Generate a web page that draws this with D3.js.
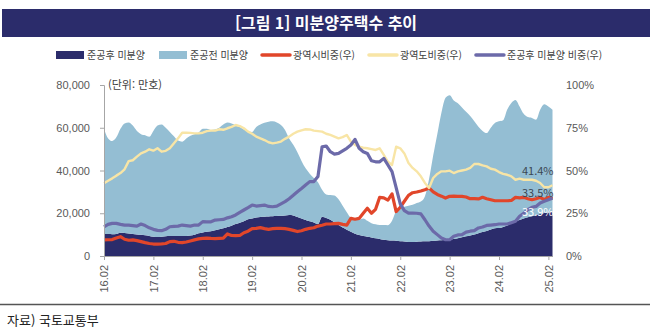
<!DOCTYPE html>
<html lang="ko">
<head>
<meta charset="utf-8">
<script src="https://cdn.jsdelivr.net/npm/d3@7"></script>
<style>
  body { margin: 0; background: #fff; }
  svg { display: block; font-family: "Noto Sans CJK KR", "Noto Sans", sans-serif; }
</style>
</head>
<body>
<svg width="652" height="335"></svg>
<script>
// monthly series, 16.02 onward
const months = d3.timeMonth
  .range(new Date(2016, 1, 1), new Date(2025, 3, 1))
  .map(d3.timeFormat("%y.%m"));
const xTicks = ["16.02", "17.02", "18.02", "19.02", "20.02", "21.02", "22.02", "23.02", "24.02", "25.02"];
const yTicks = [0, 20000, 40000, 60000, 80000];
const pctTicks = [0, 25, 50, 75, 100];

// 준공후 미분양 (호)
const completed = [
  10300, 10300, 10200, 10300, 10900, 10800, 10500, 10300, 10100, 9900, 9700, 9400,
  9000, 8900, 9000, 9200, 9300, 9400, 9400, 9400, 9400, 9600, 9900, 10600,
  11000, 11300, 11600, 12100, 12500, 13000, 13600, 14200, 15000, 15600, 16300, 17200,
  17600, 18000, 18300, 18400, 18500, 18600, 18700, 18800, 19000, 19200, 19000, 18300,
  17600, 16900, 16200, 15700, 15000, 18400, 17800, 17000, 15800, 14500, 13300, 12300,
  11300, 10400, 9800, 9300, 9000, 8700, 8300, 8000, 7600, 7400, 7200, 7100,
  6900, 6800, 6600, 6600, 6700, 6800, 6900, 6900, 7100, 7300, 7400, 7500,
  7600, 7900, 8300, 8800, 9200, 9600, 10100, 10700, 11200, 11700, 12400, 13000,
  13100, 13600, 14300, 15200, 16200, 16800, 17500, 18100, 18600, 19200, 19600, 20100,
  20400, 20600
];
// 준공전 미분양 (호)
const preCompletion = [
  49200, 44700, 43600, 45200, 48600, 51200, 52000, 50700, 48400, 47100, 46800, 46400,
  49500, 52100, 52500, 50800, 48700, 46600, 44600, 44100, 45600, 46600, 47100, 47200,
  48500, 48200, 47400, 47100, 47500, 48500, 48800, 47800, 46200, 44700, 42900, 41300,
  40400, 42300, 43200, 43900, 44300, 44400, 43800, 42500, 40000, 35800, 33000, 30200,
  26900, 24100, 22300, 20800, 19500, 12600, 11000, 11500, 12500, 12000, 10200, 8200,
  6500, 6400, 7200, 8300, 7500, 6600, 6500, 6500, 6900, 7000, 9300, 13900,
  15600, 16200, 16900, 17400, 18100, 18700, 21100, 29100, 39900, 49700, 59600, 66500,
  67600, 64900, 63200, 60700, 58300, 55900, 52900, 49800, 47300, 45800, 47600, 49200,
  49900, 49900, 54200, 56400, 56800, 53200, 49000, 46900, 46000, 44600, 48800, 50900,
  49600, 47800
];
// 광역시 비중 (%)
const metroShare = [
  9.4, 9.5, 9.6, 10.5, 11.3, 9.8, 9.2, 9.4, 9.0, 8.4, 7.8, 7.3,
  7.0, 7.0, 7.1, 7.3, 8.4, 8.6, 8.0, 7.8, 8.2, 8.8, 9.4, 10.0,
  10.3, 10.5, 10.3, 10.2, 10.3, 10.4, 12.9, 12.0, 11.9, 12.0, 13.6, 14.5,
  16.0, 16.2, 16.6, 16.0, 15.6, 16.0, 16.2, 16.2, 16.0, 15.6, 15.0, 14.3,
  14.8, 15.6, 16.2, 16.5, 17.5, 18.0, 18.7, 18.7, 18.9, 19.1, 18.5, 18.1,
  22.0, 21.5, 22.0, 25.0, 27.9, 25.0, 27.3, 34.3, 34.0, 32.7, 36.3, 26.0,
  28.5, 32.0, 35.5, 37.0, 37.4, 38.0, 38.8, 39.8, 37.5, 36.0, 35.0, 33.9,
  34.9, 35.0, 34.9, 34.9, 34.5, 33.5, 33.5, 33.4, 34.3, 33.5, 32.9, 32.3,
  32.3, 32.3, 32.3, 32.5, 34.3, 34.0, 34.3, 33.5, 32.9, 33.5, 34.3, 32.9,
  34.3, 33.5
];
// 광역도 비중 (%)
const provinceShare = [
  42.5, 44.0, 45.4, 47.0, 48.5, 50.7, 55.5, 56.0, 58.1, 60.0, 61.0, 62.4,
  61.6, 63.0, 61.0, 61.5, 63.0, 65.9, 68.8, 72.1, 72.1, 72.0, 71.7, 71.7,
  72.1, 73.0, 73.3, 73.3, 74.1, 73.8, 74.7, 75.5, 76.6, 76.0, 74.7, 72.7,
  71.5, 69.8, 68.8, 67.8, 66.5, 65.9, 66.3, 66.9, 68.5, 69.8, 71.5, 72.7,
  73.5, 74.1, 74.0, 73.3, 73.0, 72.7, 71.5, 70.8, 69.8, 68.8, 69.5, 70.8,
  66.9, 65.0, 63.9, 63.3, 63.0, 62.5, 62.0, 63.0, 59.1, 55.1, 53.2, 63.9,
  63.0, 60.0, 54.4, 51.5, 49.5, 46.6, 42.7, 39.8, 45.6, 48.0, 49.5, 49.5,
  49.9, 48.5, 49.5, 50.0, 50.5, 51.5, 53.8, 53.8, 53.0, 52.4, 51.0, 50.5,
  49.1, 48.0, 47.5, 46.6, 44.6, 45.2, 44.6, 44.6, 44.6, 44.0, 42.7, 40.2,
  40.2, 41.4
];
// 준공후 미분양 비중 (%)
const completedShare = [
  17.1, 18.5, 19.1, 19.1, 18.5, 18.1, 18.1, 17.8, 17.5, 18.7, 17.8, 16.5,
  15.6, 15.0, 14.8, 15.6, 17.1, 17.3, 17.5, 18.1, 17.8, 17.5, 18.1, 18.1,
  20.1, 20.0, 20.0, 21.0, 21.2, 21.4, 22.3, 23.0, 24.0, 25.5, 26.9, 28.3,
  29.8, 29.2, 29.5, 29.8, 29.0, 28.8, 29.2, 30.5, 31.8, 33.5, 35.5, 37.6,
  39.5, 41.5, 43.5, 43.5, 46.5, 63.9, 64.3, 61.0, 59.6, 60.0, 61.5, 63.0,
  64.9, 68.2, 63.0, 61.0, 60.0, 55.7, 55.1, 55.1, 57.1, 53.2, 49.3, 40.0,
  30.5, 26.5, 25.1, 25.1, 25.0, 24.6, 21.2, 17.5, 14.5, 12.5, 10.5, 9.5,
  9.5, 11.5, 12.3, 12.5, 14.0, 14.5, 14.8, 16.4, 17.0, 17.9, 18.1, 18.3,
  18.7, 18.7, 18.7, 19.5, 20.3, 23.2, 25.0, 27.1, 28.5, 29.0, 31.0, 32.0,
  32.9, 33.9
];

const colors = {
  completed: "#2b2c6b",
  pre: "#94bed3",
  metro: "#e1462a",
  province: "#f8e5a6",
  share: "#6c6aa9",
  title: "#2b2c6b",
  text: "#595959"
};

const svg = d3.select("svg");
const width = +svg.attr("width");
const margin = { top: 85, right: 100, bottom: 79, left: 104 };
const plotBottom = 256;

// title bar
svg.append("rect")
  .attr("x", 2).attr("y", 9)
  .attr("width", width - 4).attr("height", 28)
  .attr("fill", colors.title);
svg.append("text")
  .attr("x", width / 2).attr("y", 29)
  .attr("text-anchor", "middle")
  .attr("fill", "#fff")
  .attr("font-size", 16)
  .attr("font-weight", 700)
  .text("[그림 1] 미분양주택수 추이");

// legend
const legendItems = [
  { label: "준공후 미분양", color: colors.completed, type: "box" },
  { label: "준공전 미분양", color: colors.pre, type: "box" },
  { label: "광역시비중(우)", color: colors.metro, type: "line" },
  { label: "광역도비중(우)", color: colors.province, type: "line" },
  { label: "준공후 미분양 비중(우)", color: colors.share, type: "line" }
];
let lx = 56;
const legendY = 55;
legendItems.forEach((item) => {
  if (item.type === "box") {
    svg.append("rect")
      .attr("x", lx).attr("y", legendY - 4)
      .attr("width", 28).attr("height", 8)
      .attr("fill", item.color);
  } else {
    svg.append("line")
      .attr("x1", lx).attr("x2", lx + 28)
      .attr("y1", legendY).attr("y2", legendY)
      .attr("stroke", item.color)
      .attr("stroke-width", 3.5)
      .attr("stroke-linecap", "round");
  }
  const t = svg.append("text")
    .attr("x", lx + 31).attr("y", legendY + 3.5)
    .attr("font-size", 10)
    .attr("fill", "#404040")
    .text(item.label);
  lx += 31 + t.node().getComputedTextLength() + 14;
});

// scales
const x = d3.scalePoint()
  .domain(months)
  .range([margin.left, 552.5]);
const yLeft = d3.scaleLinear()
  .domain([0, 80000])
  .range([plotBottom, margin.top]);
const yRight = d3.scaleLinear()
  .domain([0, 100])
  .range([plotBottom, margin.top]);

const table = months.map((m, i) => ({
  month: m,
  completed: completed[i],
  pre: preCompletion[i],
  metro: metroShare[i],
  province: provinceShare[i],
  share: completedShare[i]
}));

const stacked = d3.stack().keys(["completed", "pre"])(table);

const area = d3.area()
  .x((d) => x(d.data.month))
  .y0((d) => yLeft(d[0]))
  .y1((d) => yLeft(d[1]))
  .curve(d3.curveMonotoneX);

svg.append("g")
  .selectAll("path")
  .data(stacked)
  .join("path")
  .attr("fill", (d) => (d.key === "completed" ? colors.completed : colors.pre))
  .attr("d", area);

// right-axis lines
const lineSeries = [
  { key: "metro", color: colors.metro, width: 3.2 },
  { key: "province", color: colors.province, width: 2.4 },
  { key: "share", color: colors.share, width: 3.2 }
];
lineSeries.forEach((s) => {
  svg.append("path")
    .datum(table)
    .attr("fill", "none")
    .attr("stroke", s.color)
    .attr("stroke-width", s.width)
    .attr("stroke-linejoin", "round")
    .attr("d", d3.line()
      .x((d) => x(d.month))
      .y((d) => yRight(d[s.key])));
});

// axes
const yAxisG = svg.append("g")
  .attr("transform", `translate(${margin.left},0)`)
  .call(d3.axisLeft(yLeft)
    .tickValues(yTicks)
    .tickFormat(d3.format(","))
    .tickSize(4)
    .tickPadding(10));
yAxisG.select(".domain").attr("stroke", "#a6a6a6");
yAxisG.selectAll(".tick line").attr("stroke", "#a6a6a6");
yAxisG.selectAll("text")
  .attr("font-size", 11)
  .attr("fill", colors.text)
  .style("font-family", "inherit");

const yRightG = svg.append("g")
  .attr("transform", "translate(552,0)")
  .call(d3.axisRight(yRight)
    .tickValues(pctTicks)
    .tickFormat((d) => d + "%")
    .tickSize(0)
    .tickPadding(14));
yRightG.select(".domain").remove();
yRightG.selectAll("text")
  .attr("font-size", 11)
  .attr("fill", colors.text)
  .style("font-family", "inherit");

const xAxisG = svg.append("g")
  .attr("transform", `translate(0,${plotBottom})`)
  .call(d3.axisBottom(x)
    .tickValues(xTicks)
    .tickSize(4)
    .tickSizeOuter(0));
xAxisG.select(".domain").attr("stroke", "#a6a6a6");
xAxisG.selectAll(".tick line").attr("stroke", "#a6a6a6");
xAxisG.selectAll("text")
  .attr("transform", "rotate(-90)")
  .attr("x", -9)
  .attr("y", 0)
  .attr("dy", "0.35em")
  .attr("font-size", 11)
  .attr("fill", colors.text)
  .style("text-anchor", "end")
  .style("font-family", "inherit");

svg.append("text")
  .attr("x", 108).attr("y", 89)
  .attr("font-size", 11)
  .attr("fill", "#404040")
  .text("(단위: 만호)");

// end-of-series value labels
const last = table[table.length - 1];
const lastX = x(last.month) + 1;
const endLabels = [
  { value: last.province, dy: -10, color: "#3b4754" },
  { value: last.metro, dy: -2, color: "#3b4754" },
  { value: last.share, dy: 18, color: "#fff" }
];
svg.append("g")
  .selectAll("text")
  .data(endLabels)
  .join("text")
  .attr("x", lastX)
  .attr("y", (d) => yRight(d.value) + d.dy)
  .attr("text-anchor", "end")
  .attr("font-size", 11)
  .attr("fill", (d) => d.color)
  .text((d) => d.value.toFixed(1) + "%");

// source line
svg.append("line")
  .attr("x1", 0).attr("x2", 650)
  .attr("y1", 304.5).attr("y2", 304.5)
  .attr("stroke", "#555")
  .attr("stroke-width", 1.5);
svg.append("text")
  .attr("x", 7).attr("y", 325)
  .attr("font-size", 13)
  .attr("fill", "#222")
  .text("자료) 국토교통부");
</script>
</body>
</html>
